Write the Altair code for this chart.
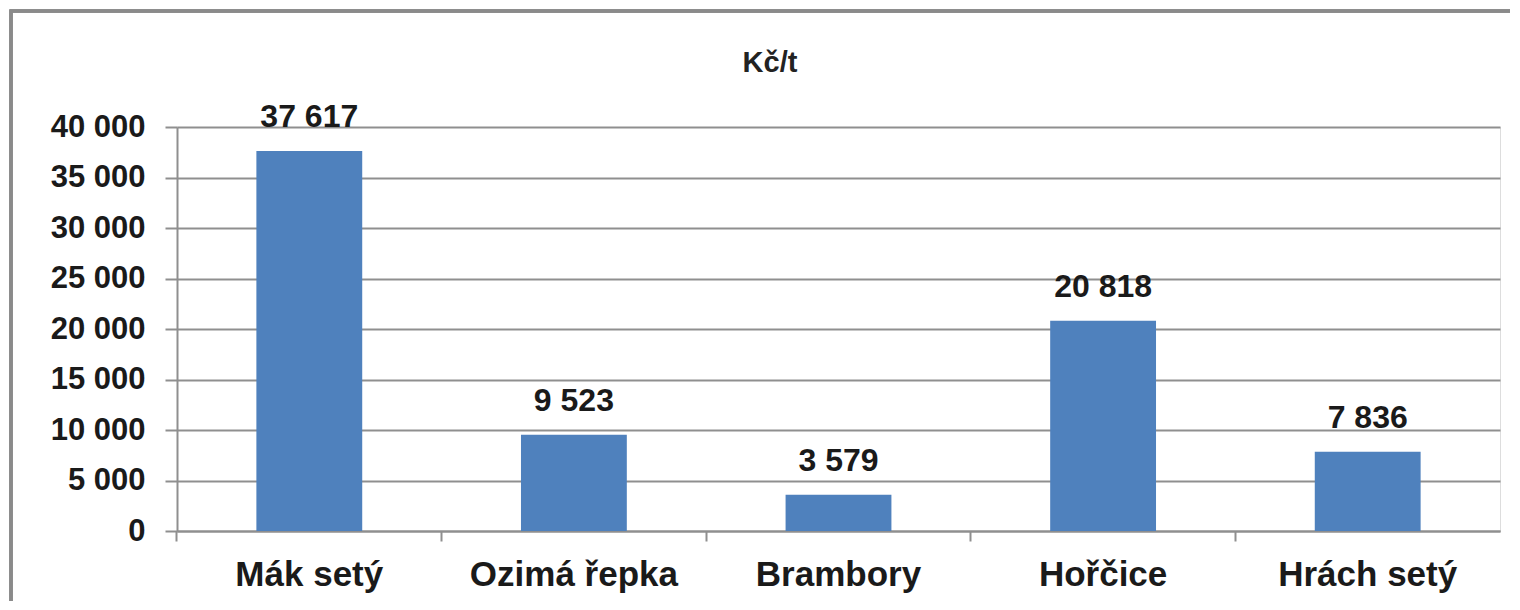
import altair as alt
import pandas as pd

categories = ["Mák setý", "Ozimá řepka", "Brambory", "Hořčice", "Hrách setý"]
values = [37617, 9523, 3579, 20818, 7836]
y_ticks = [0, 5000, 10000, 15000, 20000, 25000, 30000, 35000, 40000]
title_text = "Kč/t"

df = pd.DataFrame({"plodina": categories, "cena": values})

FONT = "Liberation Sans"
GRID = "#8f8f8f"

x_enc = alt.X(
    "plodina:N",
    sort=categories,
    title=None,
    scale=alt.Scale(paddingInner=0.6, paddingOuter=0.3),
    axis=alt.Axis(
        labelAngle=0,
        labelFont=FONT,
        labelFontSize=35,
        labelFontWeight="bold",
        labelColor="#1a1a1a",
        labelPadding=16,
        labelLimit=0,
        tickSize=10,
        tickColor=GRID,
        tickWidth=2,
        bandPosition=-0.75,
        domainColor=GRID,
        domainWidth=2,
    ),
)

y_enc = alt.Y(
    "cena:Q",
    title=None,
    scale=alt.Scale(domain=[0, 40000], nice=False),
    axis=alt.Axis(
        values=y_ticks,
        labelExpr="replace(format(datum.value, ','), ',', ' ')",
        labelFont=FONT,
        labelFontSize=31,
        labelFontWeight="bold",
        labelColor="#1a1a1a",
        labelPadding=20,
        tickSize=12,
        tickColor=GRID,
        tickWidth=2,
        gridColor=GRID,
        gridWidth=2,
        grid=True,
        domainColor=GRID,
        domainWidth=2,
    ),
)

base = alt.Chart(df)

bars = base.mark_bar(color="#4F81BD").encode(x=x_enc, y=y_enc)

labels = base.transform_calculate(
    lbl="replace(format(datum.cena, ','), ',', ' ')"
).mark_text(
    font=FONT, fontSize=32, fontWeight="bold", color="#1a1a1a",
    baseline="alphabetic", dy=-24
).encode(x=alt.X("plodina:N", sort=categories), y="cena:Q", text="lbl:N")

frame = base.mark_rect(fill=None, stroke="#8a8a8a", strokeWidth=3).encode(
    x=alt.value(-166), x2=alt.value(1380), y=alt.value(-116), y2=alt.value(520)
)

title_mark = alt.Chart(pd.DataFrame({"t": [title_text]})).mark_text(
    font=FONT, fontSize=29, fontWeight="bold", color="#222222",
    baseline="middle", align="center"
).encode(text="t:N", x=alt.value(593), y=alt.value(-64))

chart = (
    alt.layer(frame, bars, labels, title_mark)
    .properties(
        width=1323,
        height=404,
        padding={"left": 169, "top": 119, "right": 10, "bottom": 70},
        autosize=alt.AutoSizeParams(type="none"),
    )
    .configure_view(stroke=None)
    .configure(background="white")
)

chart.save("out.html", embed_options={"renderer": "svg", "actions": False})
